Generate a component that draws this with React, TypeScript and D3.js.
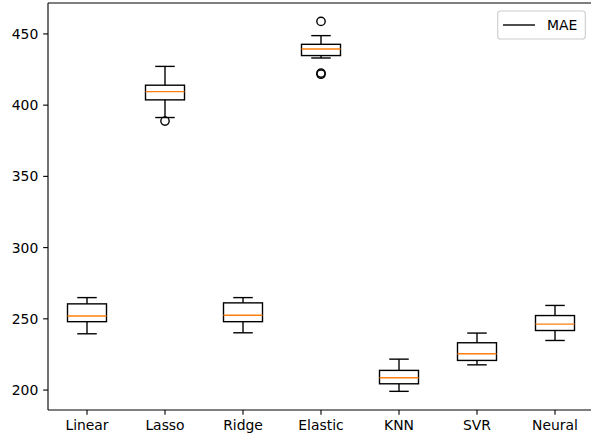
import React from "react";
import * as d3 from "d3";

const categories = ["Linear", "Lasso", "Ridge", "Elastic", "KNN", "SVR", "Neural"];
const whiskerLow = [239.5, 391.3, 240.2, 433.1, 199.1, 217.7, 234.8];
const q1 = [248.0, 403.7, 248.0, 434.8, 204.4, 220.8, 241.8];
const medians = [252.0, 409.5, 252.5, 439.4, 208.6, 225.5, 246.3];
const q3 = [260.5, 414.0, 261.2, 442.7, 213.8, 233.2, 252.3];
const whiskerHigh = [264.9, 427.2, 264.9, 448.8, 221.7, 240.0, 259.4];
const outliers: number[][] = [[], [388.8], [], [458.8, 421.7, 422.5], [], [], []];
const yTicks = [200, 250, 300, 350, 400, 450];
const legendLabel = "MAE";

const W = 591, H = 440;
const left = 48, right = 594, top = 3, bottom = 410;
const FONT = "DejaVu Sans, sans-serif";
const FS = 13.9;

export default function App() {
  const x = d3.scaleLinear().domain([0.5, 7.5]).range([left, right]);
  const y = d3.scaleLinear().domain([186, 471.7]).range([bottom, top]);
  const step = x(2) - x(1);
  const boxW = step * 0.5;
  const capW = step * 0.25;
  const tickLen = 4.86;

  return (
    <svg width={W} height={H} style={{ position: "absolute", left: 0, top: 0, background: "#fff" }}
      fontFamily={FONT}>
      <rect x={0} y={0} width={W} height={H} fill="#fff" />
      {categories.map((c, i) => {
        const cx = x(i + 1);
        const sw = 1.39;
        return (
          <g key={c} fill="none" stroke="#000" strokeWidth={sw}>
            <line x1={cx} x2={cx} y1={y(q1[i])} y2={y(whiskerLow[i])} />
            <line x1={cx} x2={cx} y1={y(q3[i])} y2={y(whiskerHigh[i])} />
            <line x1={cx - capW / 2} x2={cx + capW / 2} y1={y(whiskerLow[i])} y2={y(whiskerLow[i])} />
            <line x1={cx - capW / 2} x2={cx + capW / 2} y1={y(whiskerHigh[i])} y2={y(whiskerHigh[i])} />
            <rect x={cx - boxW / 2} y={y(q3[i])} width={boxW} height={y(q1[i]) - y(q3[i])} />
            <line x1={cx - boxW / 2} x2={cx + boxW / 2} y1={y(medians[i])} y2={y(medians[i])}
              stroke="#ff7f0e" />
            {outliers[i].map((o, j) => (
              <circle key={j} cx={cx} cy={y(o)} r={4.17} stroke="#000" strokeWidth={1.39} fill="none" />
            ))}
          </g>
        );
      })}
      {/* spines */}
      <g stroke="#000" strokeWidth={1.11} fill="none">
        <line x1={left} x2={left} y1={top} y2={bottom} />
        <line x1={left} x2={right} y1={bottom} y2={bottom} />
        <line x1={left} x2={right} y1={top} y2={top} />
        <line x1={right} x2={right} y1={top} y2={bottom} />
      </g>
      {/* y ticks */}
      {yTicks.map((t) => (
        <g key={t}>
          <line x1={left - tickLen} x2={left} y1={y(t)} y2={y(t)} stroke="#000" strokeWidth={1.11} />
          <text x={left - tickLen - 4.86} y={y(t)} dy="0.36em" textAnchor="end" fontSize={FS} fill="#000">
            {t}
          </text>
        </g>
      ))}
      {/* x ticks */}
      {categories.map((c, i) => (
        <g key={c}>
          <line x1={x(i + 1)} x2={x(i + 1)} y1={bottom} y2={bottom + tickLen} stroke="#000" strokeWidth={1.11} />
          <text x={x(i + 1)} y={bottom + tickLen + 4.86} dy="0.76em" textAnchor="middle" fontSize={FS} fill="#000">
            {c}
          </text>
        </g>
      ))}
      {/* legend */}
      <g>
        <rect x={497.7} y={11} width={87.6} height={28} rx={2.8} fill="#fff" fillOpacity={0.8}
          stroke="#cccccc" strokeWidth={1.11} />
        <line x1={503} x2={535} y1={25} y2={25} stroke="#000" strokeWidth={1.39} />
        <text x={547} y={25} dy="0.36em" fontSize={FS} fill="#000">{legendLabel}</text>
      </g>
    </svg>
  );
}
